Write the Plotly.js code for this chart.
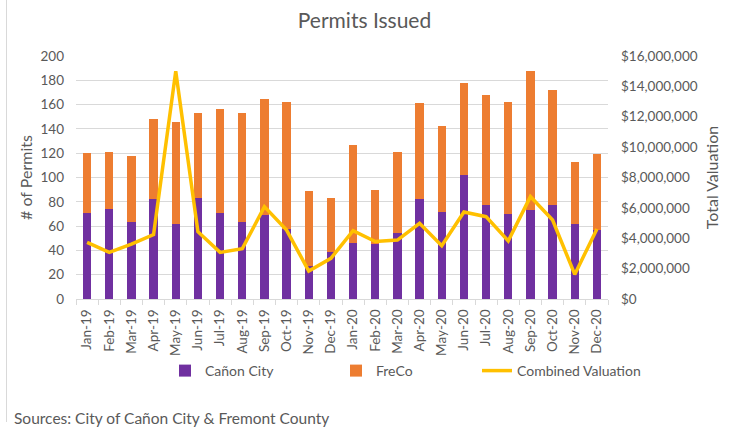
<!DOCTYPE html>
<html><head><meta charset="utf-8">
<script src="https://cdn.plot.ly/plotly-3.0.1.min.js"></script>
<style>html,body{margin:0;padding:0;background:#fff}#chart{width:729px;height:430px}</style>
</head><body><div id="chart"></div>
<script>
const months = ["Jan-19","Feb-19","Mar-19","Apr-19","May-19","Jun-19","Jul-19","Aug-19","Sep-19","Oct-19","Nov-19","Dec-19",
"Jan-20","Feb-20","Mar-20","Apr-20","May-20","Jun-20","Jul-20","Aug-20","Sep-20","Oct-20","Nov-20","Dec-20"];
const canonCity = [71,74,63,82,62,83,71,63,69,58,27,39,46,45,54,82,72,102,77,70,73,77,62,57];
const freCo = [49,47,55,66,84,70,85,90,96,104,62,44,81,45,67,79,70,76,91,92,115,95,51,62];
const valuation = [3730000,3070000,3620000,4240000,15000000,4430000,3070000,3310000,6080000,4540000,1840000,2680000,
4500000,3780000,3880000,4980000,3510000,5730000,5420000,3820000,6740000,5200000,1620000,4610000];

const font = "Lato, 'Open Sans', sans-serif";
const grey = "#595959";
const L = 76, W = 532, B = 299, H = 243;
const px = v => (v - L) / W;
const py = v => (B - v) / H;
const data = [
  {type:"bar", name:"Cañon City", x:months, y:canonCity, marker:{color:"#7030A0"}, legend:"legend"},
  {type:"bar", name:"FreCo", x:months, y:freCo, marker:{color:"#ED7D31"}, legend:"legend2"},
  {type:"scatter", mode:"lines", name:"Combined Valuation", x:months, y:valuation, yaxis:"y2",
   line:{color:"#FFC000", width:3.5}, legend:"legend3"}
];
const leg = xp => ({orientation:"h", x:px(xp), xanchor:"left", y:py(371), yanchor:"middle", font:{size:14, color:grey}, bgcolor:"rgba(0,0,0,0)"});
const layout = {
  width:729, height:430,
  margin:{l:76, r:121, t:56, b:131},
  barmode:"stack", bargap:0.63,
  font:{family:font, color:grey, size:13},
  title:{text:"Permits Issued", x:0.5, xanchor:"center", y:0.953, yanchor:"middle", font:{size:21, color:grey}},
  xaxis:{type:"category", tickangle:-90, tickfont:{size:13.5}, showgrid:false, showline:true, linecolor:"#d9d9d9",
    ticks:"outside", tickson:"boundaries", ticklen:5, tickcolor:"#d9d9d9", ticklabelstandoff:4},
  yaxis:{range:[0,200], dtick:20, gridcolor:"#d9d9d9", zeroline:false, showline:false, ticklabelstandoff:11,
    title:{text:"# of Permits", font:{size:16}, standoff:3}, tickfont:{size:13.5}},
  yaxis2:{overlaying:"y", side:"right", range:[0,16000000], dtick:2000000, tickformat:"$,.0f", showgrid:false, zeroline:false,
    ticklabelstandoff:12, title:{text:"Total Valuation", font:{size:16}, standoff:10}, tickfont:{size:13.5}},
  showlegend:true,
  legend:leg(165), legend2:leg(336), legend3:leg(477),
  shapes:[{type:"line", xref:"paper", yref:"paper", x0:px(6.5), x1:px(6.5), y0:py(0), y1:py(422), line:{color:"#d9d9d9", width:1}}],
  annotations:[{xref:"paper", yref:"paper", x:px(12), y:py(418), xanchor:"left", yanchor:"middle", showarrow:false,
    text:"Sources: City of Cañon City & Fremont County", font:{size:15.5, color:grey}}],
  paper_bgcolor:"#fff", plot_bgcolor:"#fff"
};
Plotly.newPlot("chart", data, layout, {displayModeBar:false});
</script></body></html>
